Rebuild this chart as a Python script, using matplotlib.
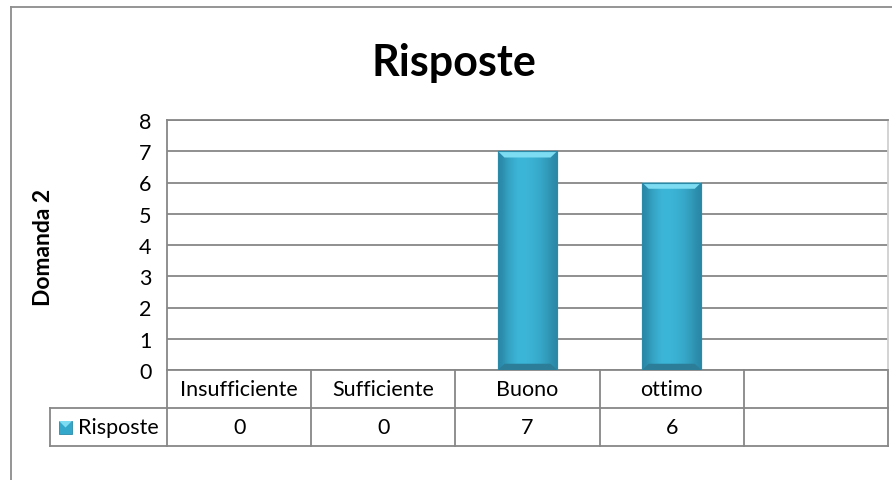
import numpy as np
import matplotlib.pyplot as plt
from matplotlib.patches import Polygon, Rectangle
from matplotlib.lines import Line2D

plt.rcParams['font.family'] = ['Lato', 'DejaVu Sans']

categories = ['Insufficiente', 'Sufficiente', 'Buono', 'ottimo', '']
values = [0, 0, 7, 6, None]
series_name = 'Risposte'
title = 'Risposte'
y_label = 'Domanda 2'
y_ticks = [0, 1, 2, 3, 4, 5, 6, 7, 8]

GRID = '#878787'
FS = 15.5
W, H = 892, 481
fig = plt.figure(figsize=(W / 100, H / 100), dpi=100)
ax = fig.add_axes([167 / W, 1 - 371 / H, (888 - 167) / W, (371 - 121) / H])

x = np.arange(len(categories))
ax.set_xlim(-0.5, len(categories) - 0.5)
ax.set_ylim(y_ticks[0], y_ticks[-1])
ax.set_yticks(y_ticks)
ax.set_xticks([])
ax.tick_params(axis='y', length=0, pad=11, labelsize=FS)
ax.yaxis.grid(True, color=GRID, lw=1.3)
ax.set_axisbelow(True)
for s in ax.spines.values():
    s.set_color(GRID)
    s.set_linewidth(1.3)
ax.spines['right'].set_color('#d0d0d0')

# bars with a simple bevel look
bw = 0.41
bx = [xi for xi, v in zip(x, values) if v]
bh = [v for v in values if v]
bars = ax.bar(bx, bh, width=bw, color='#38b1d3', edgecolor='#2b8aa8', lw=0.8, zorder=3)
grad = np.array([[0.0, 0.5, 0.8, 1.0, 1.0, 0.9, 0.8, 0.6, 0.35, 0.0]])
cmap = plt.matplotlib.colors.LinearSegmentedColormap.from_list('b', ['#2a87a6', '#3cb6d8'])
dx, dy = 0.045, 0.2
for p in bars:
    x0, y0, w, h = p.get_x(), p.get_y(), p.get_width(), p.get_height()
    im = ax.imshow(grad, extent=(x0, x0 + w, y0, y0 + h), aspect='auto', cmap=cmap,
                   interpolation='bicubic', zorder=3)
    im.set_clip_path(p)
    ax.add_patch(Polygon([(x0, y0 + h), (x0 + w, y0 + h), (x0 + w - dx, y0 + h - dy), (x0 + dx, y0 + h - dy)],
                         closed=True, color='#7ddcf2', lw=0, zorder=4))
    ax.add_patch(Polygon([(x0, y0), (x0 + w, y0), (x0 + w - dx, y0 + dy), (x0 + dx, y0 + dy)],
                         closed=True, color='#2b7d98', lw=0, zorder=4))
    ax.add_patch(Rectangle((x0, y0), w, h, fill=False, ec='#2b8aa8', lw=0.8, zorder=5))

# data table under the axes
tr = ax.get_xaxis_transform()
r1, r2 = -38 / 250, -76 / 250
left = -0.5 - (117 / 721) * len(categories)
xe = len(categories) - 0.5
lk = dict(color=GRID, lw=1.3, transform=tr, clip_on=False)
ax.add_line(Line2D([left, xe], [r1, r1], **lk))
ax.add_line(Line2D([left, xe], [r2, r2], **lk))
ax.add_line(Line2D([left, left], [r1, r2], **lk))
for i in range(len(categories) + 1):
    ax.add_line(Line2D([i - 0.5, i - 0.5], [0, r2], **lk))
for xi, c, v in zip(x, categories, values):
    ax.text(xi, (0 + r1) / 2, c, transform=tr, ha='center', va='center', fontsize=FS)
    ax.text(xi, (r1 + r2) / 2, '' if v is None else str(v), transform=tr,
            ha='center', va='center', fontsize=FS)

# legend key with a small bevel
kx, ky, ks = -108 / 721, -64 / 250, 13
kw, kh = ks / 721, ks / 250
ax.add_patch(Rectangle((kx, ky), kw, kh, transform=ax.transAxes, clip_on=False,
                       fc='#34a8ca', ec='#2b8aa8', lw=0.6))
ax.add_patch(Polygon([(kx, ky + kh), (kx + kw, ky + kh), (kx + kw / 2, ky + kh / 2)],
                     closed=True, transform=ax.transAxes, clip_on=False, fc='#7ddcf2', lw=0))
ax.text(-89 / 721, (r1 + r2) / 2, series_name, transform=ax.transAxes, ha='left',
        va='center', fontsize=FS)

# chart frame, title, axis title
fk = dict(color='#8c8c8c', lw=1.3, transform=fig.transFigure)
fig.add_artist(Line2D([11 / W, 11 / W], [0, 1 - 8 / H], **fk))
fig.add_artist(Line2D([11 / W, 1], [1 - 8 / H, 1 - 8 / H], **fk))
fig.text(454 / W, 1 - 63 / H, title, ha='center', va='center', fontsize=31, fontweight='bold')
fig.text(43 / W, 1 - 247 / H, y_label, rotation=90, ha='center', va='center',
         fontsize=16.5, fontweight='bold')

fig.savefig('out.png', dpi=100)
